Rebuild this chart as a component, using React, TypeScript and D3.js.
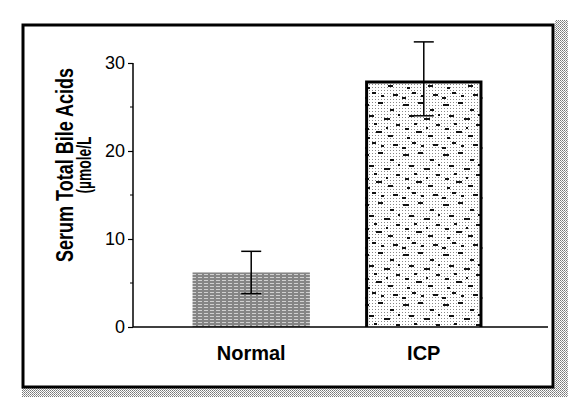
import React, { useRef, useEffect } from "react";
import * as d3 from "d3";

const categories = ["Normal", "ICP"];
const means = [6.2, 28];
const errLow = [3.8, 24];
const errHigh = [8.6, 32.4];
const yTicks = [0, 10, 20, 30];
const yMinorTicks = [5, 15, 25];

// speckle marks for the ICP fill (pattern tile coords: x, y, length)
const speckles = [
  [3, 4, 6], [18, 2, 5], [30, 9, 4], [9, 15, 5], [24, 18, 6],
  [36, 24, 4], [5, 28, 4], [16, 31, 6], [28, 35, 5], [12, 42, 4],
  [33, 44, 5], [2, 47, 4], [21, 45, 3], [38, 14, 3], [14, 23, 3],
  [26, 27, 2], [7, 37, 3],
];

function App() {
  const svgRef = useRef<SVGSVGElement>(null);

  useEffect(() => {
    const svg = d3.select(svgRef.current);
    svg.selectAll("*").remove();

    const width = 568;
    const height = 397;

    const defs = svg.append("defs");

    // halftone background strip
    const half = defs.append("pattern").attr("id", "half")
      .attr("width", 2).attr("height", 2).attr("patternUnits", "userSpaceOnUse");
    half.append("rect").attr("width", 2).attr("height", 2).attr("fill", "#fff");
    half.append("rect").attr("width", 1).attr("height", 1).attr("fill", "#777");
    half.append("rect").attr("x", 1).attr("y", 1).attr("width", 1).attr("height", 1).attr("fill", "#999");

    // normal bar: grey with light streaks
    const grey = defs.append("pattern").attr("id", "greyfill")
      .attr("width", 6).attr("height", 3).attr("patternUnits", "userSpaceOnUse");
    grey.append("rect").attr("width", 6).attr("height", 3).attr("fill", "#858585");
    grey.append("rect").attr("y", 1).attr("width", 4).attr("height", 1).attr("fill", "#d0d0d0");

    // ICP bar: fine dots
    const dots = defs.append("pattern").attr("id", "dots")
      .attr("width", 3).attr("height", 3).attr("patternUnits", "userSpaceOnUse");
    dots.append("rect").attr("width", 1).attr("height", 1).attr("fill", "#888");

    const spk = defs.append("pattern").attr("id", "speckle")
      .attr("width", 40).attr("height", 50).attr("patternUnits", "userSpaceOnUse");
    spk.selectAll("rect").data(speckles).enter().append("rect")
      .attr("x", (d) => d[0]).attr("y", (d) => d[1])
      .attr("width", (d) => d[2]).attr("height", 2)
      .attr("fill", "#111");

    // page background and halftone border
    svg.append("rect").attr("width", width).attr("height", height).attr("fill", "#fff");
    svg.append("rect").attr("x", 555).attr("y", 20).attr("width", 13).attr("height", 377).attr("fill", "url(#half)");
    svg.append("rect").attr("x", 22).attr("y", 388).attr("width", 546).attr("height", 9).attr("fill", "url(#half)");

    // frame
    svg.append("rect")
      .attr("x", 23).attr("y", 25).attr("width", 530).attr("height", 362)
      .attr("fill", "#fff").attr("stroke", "#000").attr("stroke-width", 3);

    const y = d3.scaleLinear().domain([0, 30]).range([327, 63]);
    const x = d3.scaleBand<string>().domain(categories)
      .range([133, 542]).paddingInner(0.32).paddingOuter(0.345);

    const g = svg.append("g");

    // bars
    categories.forEach((c, i) => {
      const bx = x(c) as number;
      const bw = x.bandwidth();
      if (i === 0) {
        g.append("rect").attr("x", bx).attr("y", y(means[i]))
          .attr("width", bw).attr("height", y(0) - y(means[i]))
          .attr("fill", "url(#greyfill)");
      } else {
        g.append("rect").attr("x", bx).attr("y", y(means[i]))
          .attr("width", bw).attr("height", y(0) - y(means[i]))
          .attr("fill", "url(#dots)");
        g.append("rect").attr("x", bx).attr("y", y(means[i]))
          .attr("width", bw).attr("height", y(0) - y(means[i]))
          .attr("fill", "url(#speckle)");
        g.append("path")
          .attr("d", `M${bx + 1.5},${y(0)}V${y(means[i]) + 1.5}H${bx + bw - 1.5}V${y(0)}`)
          .attr("fill", "none").attr("stroke", "#000").attr("stroke-width", 3);
      }
      // error bars
      const cx = bx + bw / 2;
      g.append("line").attr("x1", cx).attr("x2", cx)
        .attr("y1", y(errHigh[i])).attr("y2", y(errLow[i]))
        .attr("stroke", "#000").attr("stroke-width", 1.5);
      [errHigh[i], errLow[i]].forEach((v) => {
        g.append("line").attr("x1", cx - 10).attr("x2", cx + 10)
          .attr("y1", y(v)).attr("y2", y(v))
          .attr("stroke", "#000").attr("stroke-width", 1.5);
      });
    });

    // y axis
    const yAxis = d3.axisLeft(y).tickValues(yTicks).tickSize(5).tickPadding(3)
      .tickFormat(d3.format("d"));
    const ya = g.append("g").attr("transform", "translate(133,0)").call(yAxis);
    ya.select(".domain").attr("stroke", "#000").attr("stroke-width", 1.5)
      .attr("d", `M0,${y(30)}V${y(0)}`);
    ya.selectAll(".tick line").attr("stroke", "#000").attr("stroke-width", 1.2);
    ya.selectAll(".tick text")
      .attr("font-family", "'Liberation Sans Narrow', 'Liberation Sans', Arial, sans-serif")
      .attr("font-size", 18).attr("fill", "#000");
    g.selectAll(".minor").data(yMinorTicks).enter().append("line")
      .attr("x1", 130).attr("x2", 133)
      .attr("y1", (d) => y(d)).attr("y2", (d) => y(d))
      .attr("stroke", "#000").attr("stroke-width", 1);

    // x axis line
    g.append("line").attr("x1", 133).attr("x2", 548)
      .attr("y1", y(0)).attr("y2", y(0))
      .attr("stroke", "#000").attr("stroke-width", 1.5);

    // category labels
    g.selectAll(".cat").data(categories).enter().append("text")
      .attr("x", (d) => (x(d) as number) + x.bandwidth() / 2)
      .attr("y", 360)
      .attr("text-anchor", "middle")
      .attr("font-family", "'Liberation Sans', Arial, sans-serif")
      .attr("font-weight", "bold").attr("font-size", 20).attr("fill", "#000")
      .text((d) => d);

    // y axis title (two lines, glyphs stretched like the scan)
    g.append("text")
      .attr("transform", "translate(73,165) rotate(-90) scale(1,1.3)")
      .attr("text-anchor", "middle")
      .attr("font-family", "'Liberation Sans', Arial, sans-serif")
      .attr("font-weight", "bold").attr("font-size", 18).attr("fill", "#000")
      .text("Serum Total Bile Acids");
    g.append("text")
      .attr("transform", "translate(91,165) rotate(-90) scale(1,1.2)")
      .attr("text-anchor", "middle")
      .attr("textLength", 57).attr("lengthAdjust", "spacingAndGlyphs")
      .attr("font-family", "'Liberation Sans', Arial, sans-serif")
      .attr("font-weight", "bold").attr("font-size", 17).attr("fill", "#000")
      .text("(µmole/L");
  }, []);

  return (
    <svg
      ref={svgRef}
      width={568}
      height={397}
      style={{ position: "absolute", left: 0, top: 0 }}
    ></svg>
  );
}

export default App;
